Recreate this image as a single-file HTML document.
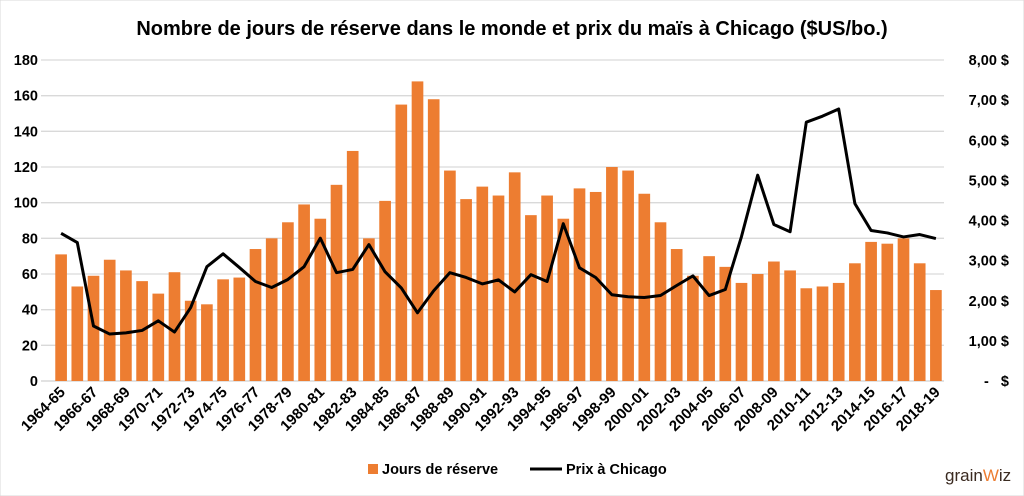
<!DOCTYPE html>
<html><head><meta charset="utf-8"><style>
html,body{margin:0;padding:0;background:#fff;}
svg{display:block;font-family:"Liberation Sans",sans-serif;}
</style></head><body>
<svg id="c" width="1024" height="496" viewBox="0 0 1024 496">
<rect x="0" y="0" width="1024" height="496" fill="#fff" stroke="#d9d9d9"/>
<text x="512" y="35" text-anchor="middle" font-size="20" font-weight="bold" fill="#000">Nombre de jours de réserve dans le monde et prix du maïs à Chicago ($US/bo.)</text>
<g id="grid"></g><g id="bars"></g><g id="line"></g><g id="axes"></g>
<g>
<rect x="368" y="464" width="10" height="10" fill="#ED7D31"/>
<text x="382" y="474" font-size="14.5" font-weight="bold">Jours de réserve</text>
<line x1="530" y1="469" x2="562" y2="469" stroke="#000" stroke-width="3"/>
<text x="566" y="474" font-size="14.5" font-weight="bold">Prix à Chicago</text>
</g>
<g>
<text x="945" y="481" font-size="17" fill="#3a2a20">grain<tspan fill="#ED7D31">W</tspan>iz</text>
</g>
</svg>
<script>
const categories=["1964-65","1965-66","1966-67","1967-68","1968-69","1969-70","1970-71","1971-72","1972-73","1973-74","1974-75","1975-76","1976-77","1977-78","1978-79","1979-80","1980-81","1981-82","1982-83","1983-84","1984-85","1985-86","1986-87","1987-88","1988-89","1989-90","1990-91","1991-92","1992-93","1993-94","1994-95","1995-96","1996-97","1997-98","1998-99","1999-00","2000-01","2001-02","2002-03","2003-04","2004-05","2005-06","2006-07","2007-08","2008-09","2009-10","2010-11","2011-12","2012-13","2013-14","2014-15","2015-16","2016-17","2017-18","2018-19"];
const reserveDays=[71,53,59,68,62,56,49,61,45,43,57,58,74,80,89,99,91,110,129,80,101,155,168,158,118,102,109,104,117,93,104,91,108,106,120,118,105,89,74,59,70,64,55,60,67,62,52,53,55,66,78,77,80,66,51];
const chicagoPrice=[3.68,3.45,1.37,1.17,1.2,1.26,1.5,1.22,1.83,2.85,3.17,2.83,2.48,2.33,2.53,2.85,3.56,2.7,2.78,3.4,2.72,2.32,1.7,2.25,2.7,2.58,2.42,2.52,2.22,2.65,2.48,3.92,2.82,2.58,2.15,2.1,2.08,2.13,2.38,2.62,2.13,2.28,3.6,5.13,3.9,3.72,6.45,6.6,6.78,4.42,3.75,3.69,3.59,3.65,3.55];
const leftTicks=[0,20,40,60,80,100,120,140,160,180];
const rightTicks=[0,1,2,3,4,5,6,7,8];
const rightTickLabels=["-   $","1,00 $","2,00 $","3,00 $","4,00 $","5,00 $","6,00 $","7,00 $","8,00 $"];

const NS="http://www.w3.org/2000/svg";
const X0=53,X1=944,Y0=381,Y1=60;
const band=(X1-X0)/categories.length;
const xc=i=>X0+band*(i+0.5);
const yL=v=>Y0-(v/180)*(Y0-Y1);
const yR=v=>Y0-(v/8)*(Y0-Y1);
function mk(tag,attrs,parent){const e=document.createElementNS(NS,tag);for(const k in attrs)e.setAttribute(k,attrs[k]);parent.appendChild(e);return e;}
const grid=document.getElementById('grid'),bars=document.getElementById('bars'),line=document.getElementById('line'),axes=document.getElementById('axes');
leftTicks.forEach(t=>{
  const g=mk('line',{x1:X0-12,x2:X1,y1:yL(t),y2:yL(t),stroke:t===0?'#d0d0d0':'#d9d9d9','stroke-width':1.3},grid);
  
  
  const tx=mk('text',{x:38,y:yL(t)+5,'text-anchor':'end','font-size':14.5,'font-weight':'bold'},axes);
  tx.textContent=t;
  
  
});
rightTicks.forEach((t,i)=>{
  const tx=mk('text',{x:1009,y:yR(t)+5,'text-anchor':'end','font-size':14.5,'font-weight':'bold'},axes);
  tx.textContent=rightTickLabels[i];
  tx.setAttribute('style','white-space:pre');
  tx.setAttribute('xml:space','preserve');
  
  
});
const bw=band*0.72;
reserveDays.forEach((v,i)=>{
  const r=mk('rect',{x:xc(i)-bw/2,y:yL(v),width:bw,height:Y0-yL(v),fill:'#ED7D31'},bars);
  
  
});
const p=mk('polyline',{points:chicagoPrice.map((v,i)=>xc(i)+','+yR(v)).join(' '),fill:'none',stroke:'#000','stroke-width':3,'stroke-linejoin':'round'},line);


categories.forEach((c,i)=>{
  if(i%2)return;
  const x=xc(i)+5,y=393;
  const tx=mk('text',{x:x,y:y,'text-anchor':'end','font-size':15,'font-weight':'bold',transform:'rotate(-45 '+x+' '+y+')'},axes);
  tx.textContent=c;
  
  
});
</script>
</body></html>
